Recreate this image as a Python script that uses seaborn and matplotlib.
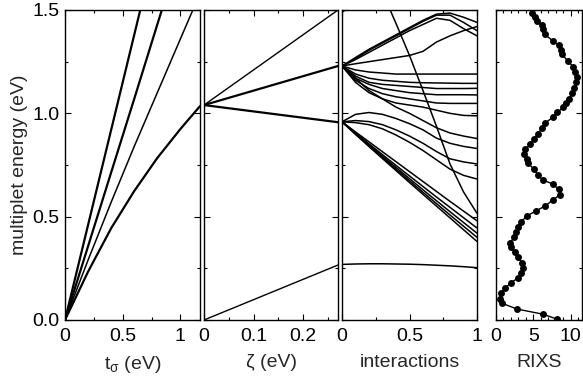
import numpy as np
import pandas as pd
import matplotlib
matplotlib.use("Agg")
import matplotlib.pyplot as plt
import seaborn as sns
from matplotlib.ticker import MultipleLocator, FuncFormatter

# panel 1 : energy vs t_sigma
t_sigma = [0, 0.2, 0.4, 0.6, 0.8, 1.0, 1.17]
tsig_a = [0, 0.46, 0.92, 1.38, 1.84, 2.30, 2.69]
tsig_b = [0, 0.357, 0.714, 1.07, 1.43, 1.785, 2.09]
tsig_c = [0, 0.29, 0.57, 0.84, 1.10, 1.36, 1.58]
tsig_d = [0, 0.234, 0.444, 0.624, 0.784, 0.924, 1.035]

# panel 2 : energy vs zeta
zeta = [0, 0.27]
zeta_low = [0, 0.266]
zeta_top = [1.04, 1.50]
zeta_mid = [1.04, 1.229]
zeta_dn = [1.04, 0.957]

# panel 3 : switching on the interactions
inter = [0, 0.1, 0.2, 0.3, 0.4, 0.5, 0.6, 0.7, 0.8, 0.9, 1.0]
int_base = [0.269, 0.271, 0.272, 0.272, 0.271, 0.270, 0.268, 0.265, 0.262, 0.258, 0.253]
int_f1 = [0.959, 0.910, 0.862, 0.814, 0.766, 0.718, 0.670, 0.622, 0.574, 0.527, 0.480]
int_f2 = [0.959, 0.905, 0.852, 0.800, 0.748, 0.697, 0.646, 0.595, 0.545, 0.495, 0.445]
int_f3 = [0.959, 0.902, 0.847, 0.792, 0.738, 0.684, 0.630, 0.577, 0.524, 0.472, 0.420]
int_f4 = [0.959, 0.900, 0.843, 0.786, 0.730, 0.674, 0.618, 0.563, 0.508, 0.454, 0.400]
int_f5 = [0.959, 0.898, 0.839, 0.781, 0.723, 0.665, 0.608, 0.551, 0.494, 0.437, 0.380]
int_l1 = [0.959, 0.995, 1.004, 0.995, 0.975, 0.950, 0.920, 0.880, 0.855, 0.840, 0.830]
int_l2 = [0.959, 0.965, 0.960, 0.945, 0.920, 0.890, 0.855, 0.815, 0.780, 0.765, 0.755]
int_l3 = [0.959, 0.955, 0.945, 0.925, 0.895, 0.860, 0.820, 0.775, 0.730, 0.700, 0.682]
int_d1 = [1.229, 1.210, 1.200, 1.195, 1.190, 1.190, 1.190, 1.190, 1.190, 1.190, 1.190]
int_d2 = [1.229, 1.190, 1.170, 1.160, 1.155, 1.150, 1.148, 1.147, 1.146, 1.145, 1.145]
int_d3 = [1.229, 1.180, 1.150, 1.140, 1.135, 1.130, 1.125, 1.120, 1.120, 1.120, 1.121]
int_d4 = [1.229, 1.170, 1.140, 1.120, 1.110, 1.100, 1.095, 1.090, 1.090, 1.090, 1.089]
int_d5 = [1.229, 1.160, 1.120, 1.095, 1.080, 1.070, 1.060, 1.050, 1.048, 1.048, 1.048]
int_d6 = [1.229, 1.150, 1.100, 1.070, 1.050, 1.040, 1.030, 1.015, 1.000, 0.990, 0.988]
int_d7 = [1.229, 1.170, 1.110, 1.070, 1.030, 1.000, 0.965, 0.930, 0.905, 0.890, 0.878]
int_u1 = [1.229, 1.270, 1.310, 1.345, 1.380, 1.415, 1.450, 1.480, 1.485, 1.465, 1.440]
int_u2 = [1.229, 1.265, 1.305, 1.340, 1.375, 1.410, 1.445, 1.475, 1.475, 1.440, 1.400]
int_u3 = [1.229, 1.260, 1.295, 1.330, 1.365, 1.400, 1.430, 1.460, 1.450, 1.410, 1.375]
int_u4 = [1.229, 1.240, 1.250, 1.260, 1.270, 1.280, 1.300, 1.345, 1.375, 1.400, 1.420]
int_top = [1.490, 1.530, 1.570, 1.610, np.nan, np.nan, np.nan, np.nan, np.nan, np.nan, np.nan]
int_steep = [np.nan, np.nan, np.nan, 1.585, 1.435, 1.280, 1.110, 0.937, 0.755, 0.620, 0.516]

# panel 4 : RIXS spectrum
rixs_e = [0.005, 0.028, 0.053, 0.081, 0.102, 0.129, 0.153, 0.181, 0.202, 0.226,
          0.250, 0.277, 0.303, 0.328, 0.352, 0.374, 0.400, 0.424, 0.451, 0.476,
          0.503, 0.529, 0.552, 0.581, 0.605, 0.632, 0.658, 0.677, 0.701, 0.729,
          0.758, 0.777, 0.802, 0.826, 0.850, 0.874, 0.900, 0.927, 0.951, 0.981,
          1.005, 1.029, 1.048, 1.068, 1.097, 1.125, 1.153, 1.177, 1.201, 1.226,
          1.253, 1.287, 1.306, 1.330, 1.351, 1.382, 1.406, 1.427, 1.449, 1.468, 1.487]
rixs_i = [8.1, 6.3, 2.8, 0.8, 0.5, 0.7, 1.2, 2.0, 2.9, 3.4,
          3.6, 3.5, 2.9, 2.5, 2.0, 1.9, 2.4, 2.7, 2.9, 3.4,
          4.1, 5.4, 6.6, 7.6, 8.5, 8.4, 7.6, 6.3, 5.6, 5.1,
          4.3, 4.1, 3.8, 3.9, 4.6, 5.1, 5.6, 6.1, 6.5, 7.6,
          8.2, 9.0, 9.4, 9.8, 10.2, 10.4, 10.7, 10.8, 10.6, 10.3,
          9.6, 8.8, 8.7, 8.4, 7.6, 6.5, 6.3, 6.1, 5.5, 5.2, 4.84]

sns.set_theme(style="ticks")
plt.rcParams["font.family"] = ["Liberation Sans", "DejaVu Sans"]
plt.rcParams["mathtext.fontset"] = "custom"
plt.rcParams["mathtext.rm"] = "Liberation Sans"
plt.rcParams["mathtext.default"] = "regular"

fig = plt.figure(figsize=(5.83, 3.79), dpi=100)
W, H = 583, 379
def px_axes(x0, x1):
    return fig.add_axes([x0 / W, 59 / H, (x1 - x0) / W, 310 / H])

ax1 = px_axes(65, 200)
ax2 = px_axes(204, 338)
ax3 = px_axes(342, 477)
ax4 = px_axes(496, 582)

def curve(ax, x, y, lw=1.0):
    sns.lineplot(x=x, y=y, ax=ax, color="black", lw=lw, sort=False, estimator=None)

thick = 1.6
curve(ax1, t_sigma, tsig_a, thick)
curve(ax1, t_sigma, tsig_b, thick)
curve(ax1, t_sigma, tsig_c, 1.1)
curve(ax1, t_sigma, tsig_d, thick)

curve(ax2, zeta, zeta_low)
curve(ax2, zeta, zeta_top)
curve(ax2, zeta, zeta_mid, thick)
curve(ax2, zeta, zeta_dn, thick)

for c in [int_base, int_f1, int_f2, int_f3, int_f4, int_f5, int_l1, int_l2, int_l3,
          int_d1, int_d2, int_d3, int_d4, int_d5, int_d6, int_d7,
          int_u1, int_u2, int_u3, int_u4, int_top, int_steep]:
    curve(ax3, inter, c, 1.1)

sns.lineplot(x=rixs_i, y=rixs_e, ax=ax4, color="black", lw=1.0, sort=False,
             estimator=None, marker="o", markersize=5, markeredgewidth=0)

fmt_g = FuncFormatter(lambda v, p: f"{v:g}")
limits = [(0, 1.17, 0.5, 0.25), (0, 0.27, 0.1, 0.05), (0, 1.0, 0.5, 0.25), (0, 11.5, 5, 1)]
labels = ["t$_\\sigma$ (eV)", "ζ (eV)", "interactions", "RIXS"]
for ax, (lo, hi, maj, mnr), lab in zip([ax1, ax2, ax3, ax4], limits, labels):
    ax.set_xlim(lo, hi)
    ax.set_ylim(0, 1.5)
    ax.xaxis.set_major_locator(MultipleLocator(maj))
    ax.xaxis.set_minor_locator(MultipleLocator(mnr))
    ax.yaxis.set_major_locator(MultipleLocator(0.5))
    ax.yaxis.set_minor_locator(MultipleLocator(0.25))
    ax.xaxis.set_major_formatter(fmt_g)
    ax.tick_params(which="both", direction="in", top=True, right=True,
                   labelsize=14, colors="black", pad=4)
    ax.tick_params(axis="x", which="major", pad=6)
    ax.tick_params(which="major", length=4, width=0.8)
    ax.tick_params(which="minor", length=2.5, width=0.8)
    for s in ax.spines.values():
        s.set_linewidth(1.0)
        s.set_color("black")
    ax.set_xlabel(lab, fontsize=14, labelpad=6)
    ax.set_ylabel("")
    if ax is not ax1:
        ax.tick_params(labelleft=False)

ax1.yaxis.set_major_formatter(FuncFormatter(lambda v, p: f"{v:.1f}"))
ax1.set_ylabel("multiplet energy (eV)", fontsize=14, labelpad=3)

fig.savefig("out.png", dpi=100)
